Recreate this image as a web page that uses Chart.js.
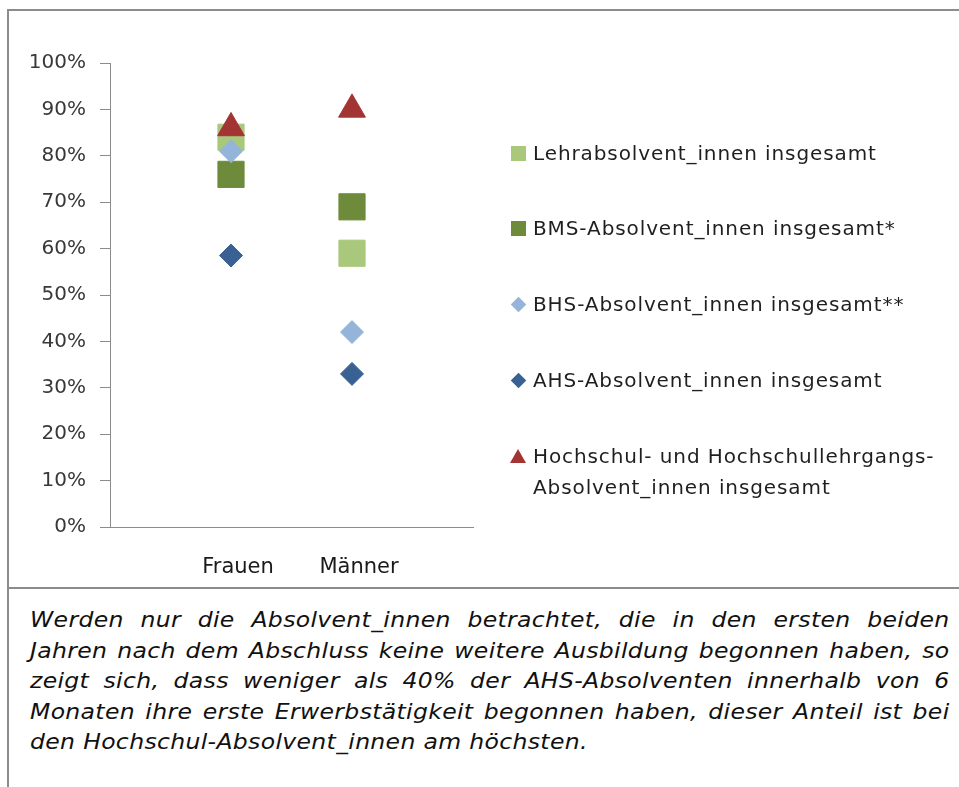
<!DOCTYPE html>
<html>
<head>
<meta charset="utf-8">
<script src="https://cdn.jsdelivr.net/npm/chart.js@4/dist/chart.umd.min.js"></script>
<style>
  body { margin: 0; background: #fff; width: 959px; height: 787px; overflow: hidden; position: relative; font-family: "DejaVu Sans", Verdana, sans-serif; }
  .line { position: absolute; background: #8c8c8c; }
  #chartBox { position: absolute; left: 0; top: 0; width: 959px; height: 588px; }
  .item { position: absolute; left: 533px; font-size: 20px; line-height: 31px; letter-spacing: 0.9px; color: #1f1f1f; white-space: pre; }
  .mark { position: absolute; }
  #caption { position: absolute; left: 30px; top: 605px; width: 821px; transform: scaleX(1.12); transform-origin: left top; font-style: italic; font-size: 21px; line-height: 30.5px; letter-spacing: 0.3px; color: #111; }
  #caption div { text-align: justify; text-align-last: justify; white-space: nowrap; }
  #caption div.last { text-align-last: left; }
</style>
</head>
<body>
<div class="line" style="left:7px; top:9px; width:952px; height:2px;"></div>
<div class="line" style="left:7px; top:9px; width:2px; height:778px;"></div>
<div class="line" style="left:7px; top:587px; width:952px; height:2px;"></div>

<div id="chartBox"><canvas id="scatterChart"></canvas></div>
<div id="legend"></div>

<div id="caption">
  <div>Werden nur die Absolvent_innen betrachtet, die in den ersten beiden</div>
  <div>Jahren nach dem Abschluss keine weitere Ausbildung begonnen haben, so</div>
  <div>zeigt sich, dass weniger als 40% der AHS-Absolventen innerhalb von 6</div>
  <div>Monaten ihre erste Erwerbstätigkeit begonnen haben, dieser Anteil ist bei</div>
  <div class="last">den Hochschul-Absolvent_innen am höchsten.</div>
</div>

<script>
// Data
const categories = ['Frauen', 'Männer'];
const seriesNames = [
    'Lehrabsolvent_innen insgesamt',
    'BMS-Absolvent_innen insgesamt*',
    'BHS-Absolvent_innen insgesamt**',
    'AHS-Absolvent_innen insgesamt',
    'Hochschul- und Hochschullehrgangs-\nAbsolvent_innen insgesamt'
];
const lehrValues = [84, 59];
const bmsValues = [76, 69];
const bhsValues = [81, 42];
const ahsValues = [58.5, 33];
const hochschulValues = [86, 90];
const yTicks = [0, 10, 20, 30, 40, 50, 60, 70, 80, 90, 100];

// Styles
const seriesColors = ['#a9c87b', '#6d8b3b', '#95b4da', '#3a6194', '#a23434'];
const pointStyles = ['rect', 'rect', 'rectRot', 'rectRot', 'triangle'];
const pointRadii = [18.5, 18.5, 11.5, 11.5, 15.5];
const axisColor = '#8c8c8c';
const fontFamily = '"DejaVu Sans", Verdana, sans-serif';

const seriesValues = [lehrValues, bmsValues, bhsValues, ahsValues, hochschulValues];

Chart.defaults.font.family = fontFamily;

const ctx = document.getElementById('scatterChart');
new Chart(ctx, {
    type: 'scatter',
    data: {
        datasets: seriesNames.map((name, i) => ({
            label: name,
            data: seriesValues[i].map((v, j) => ({ x: j + 1, y: v })),
            pointStyle: pointStyles[i],
            pointRadius: pointRadii[i],
            pointHoverRadius: pointRadii[i],
            backgroundColor: seriesColors[i],
            borderColor: seriesColors[i],
            borderWidth: 1,
            order: seriesNames.length - i // first series at the bottom
        }))
    },
    options: {
        responsive: true,
        maintainAspectRatio: false,
        animation: false,
        layout: { padding: { top: 63, right: 486, left: 0, bottom: 0 } },
        plugins: {
            legend: { display: false },
            tooltip: { enabled: false }
        },
        scales: {
            x: {
                type: 'linear',
                min: 0,
                max: categories.length + 1,
                afterBuildTicks: scale => {
                    scale.ticks = categories.map((c, i) => ({ value: i + 1 }));
                },
                afterFit: scale => { scale.height = 61; },
                grid: { display: false, drawTicks: false },
                border: { display: true, color: axisColor, width: 1 },
                ticks: {
                    callback: v => categories[v - 1],
                    font: { size: 21 },
                    color: '#1a1a1a',
                    padding: 28,
                    labelOffset: 7,
                    maxRotation: 0,
                    autoSkip: false
                }
            },
            y: {
                min: 0,
                max: 100,
                afterBuildTicks: scale => {
                    scale.ticks = yTicks.map(v => ({ value: v }));
                },
                afterFit: scale => { scale.width = 110; },
                grid: { drawOnChartArea: false, drawTicks: true, tickLength: 10, color: axisColor },
                border: { color: axisColor, width: 1 },
                ticks: {
                    callback: v => v + '%',
                    font: { size: 20 },
                    color: '#383838',
                    padding: 14
                }
            }
        }
    }
});

// HTML legend built from the series list
const legendEl = document.getElementById('legend');
seriesNames.forEach((name, i) => {
    const cy = 153 + i * 75.8;
    const item = document.createElement('div');
    item.className = 'item';
    item.style.top = (cy - 15.5) + 'px';
    item.textContent = name;
    legendEl.appendChild(item);

    const mark = document.createElement('div');
    mark.className = 'mark';
    const color = seriesColors[i];
    if (pointStyles[i] === 'rect') {
        Object.assign(mark.style, { left: '511px', top: (cy - 7.5) + 'px', width: '15px', height: '15px', background: color });
    } else if (pointStyles[i] === 'rectRot') {
        Object.assign(mark.style, { left: '513px', top: (cy - 5.5) + 'px', width: '11px', height: '11px', background: color, transform: 'rotate(45deg)' });
    } else {
        Object.assign(mark.style, {
            left: '510px', top: (cy - 7.5) + 'px', width: '0', height: '0',
            borderLeft: '8px solid transparent', borderRight: '8px solid transparent', borderBottom: '14px solid ' + color
        });
    }
    legendEl.appendChild(mark);
});
</script>
</body>
</html>
